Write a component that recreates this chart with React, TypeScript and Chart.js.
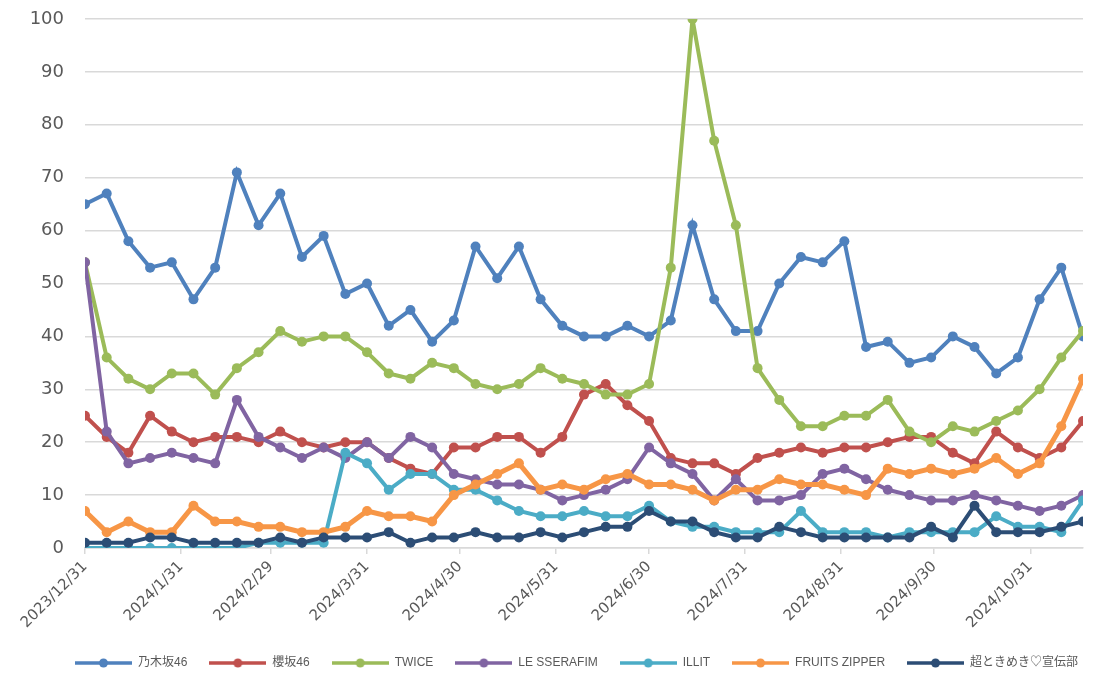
import React, { useEffect, useRef } from 'react';
import { Chart, registerables } from 'chart.js';

Chart.register(...registerables);

const WEEKS = [
  '2023/12/31', '2024/1/7', '2024/1/14', '2024/1/21', '2024/1/28', '2024/2/4', '2024/2/11', '2024/2/18',
  '2024/2/25', '2024/3/3', '2024/3/10', '2024/3/17', '2024/3/24', '2024/3/31', '2024/4/7', '2024/4/14',
  '2024/4/21', '2024/4/28', '2024/5/5', '2024/5/12', '2024/5/19', '2024/5/26', '2024/6/2', '2024/6/9',
  '2024/6/16', '2024/6/23', '2024/6/30', '2024/7/7', '2024/7/14', '2024/7/21', '2024/7/28', '2024/8/4',
  '2024/8/11', '2024/8/18', '2024/8/25', '2024/9/1', '2024/9/8', '2024/9/15', '2024/9/22', '2024/9/29',
  '2024/10/6', '2024/10/13', '2024/10/20', '2024/10/27', '2024/11/3', '2024/11/10', '2024/11/17',
];

const TICK_DATES = [
  '2023/12/31', '2024/1/31', '2024/2/29', '2024/3/31', '2024/4/30', '2024/5/31',
  '2024/6/30', '2024/7/31', '2024/8/31', '2024/9/30', '2024/10/31',
];

const NAMES = ['乃木坂46', '櫻坂46', 'TWICE', 'LE SSERAFIM', 'ILLIT', 'FRUITS ZIPPER', '超ときめき♡宣伝部'];
const COLORS = ['#4F81BD', '#C0504D', '#9BBB59', '#8064A2', '#4BACC6', '#F79646', '#2C4D75'];

const nogizaka = [65, 67, 58, 53, 54, 47, 53, 71, 61, 67, 55, 59, 48, 50, 42, 45, 39, 43, 57, 51, 57, 47, 42, 40, 40, 42, 40, 43, 61, 47, 41, 41, 50, 55, 54, 58, 38, 39, 35, 36, 40, 38, 33, 36, 47, 53, 40];
const sakurazaka = [25, 21, 18, 25, 22, 20, 21, 21, 20, 22, 20, 19, 20, 20, 17, 15, 14, 19, 19, 21, 21, 18, 21, 29, 31, 27, 24, 17, 16, 16, 14, 17, 18, 19, 18, 19, 19, 20, 21, 21, 18, 16, 22, 19, 17, 19, 24];
const twice = [54, 36, 32, 30, 33, 33, 29, 34, 37, 41, 39, 40, 40, 37, 33, 32, 35, 34, 31, 30, 31, 34, 32, 31, 29, 29, 31, 53, 100, 77, 61, 34, 28, 23, 23, 25, 25, 28, 22, 20, 23, 22, 24, 26, 30, 36, 41];
const lesserafim = [54, 22, 16, 17, 18, 17, 16, 28, 21, 19, 17, 19, 17, 20, 17, 21, 19, 14, 13, 12, 12, 11, 9, 10, 11, 13, 19, 16, 14, 9, 13, 9, 9, 10, 14, 15, 13, 11, 10, 9, 9, 10, 9, 8, 7, 8, 10];
const illit = [0, 0, 0, 0, 0, 0, 0, 0, 1, 1, 1, 1, 18, 16, 11, 14, 14, 11, 11, 9, 7, 6, 6, 7, 6, 6, 8, 5, 4, 4, 3, 3, 3, 7, 3, 3, 3, 2, 3, 3, 3, 3, 6, 4, 4, 3, 9];
const fruitsZipper = [7, 3, 5, 3, 3, 8, 5, 5, 4, 4, 3, 3, 4, 7, 6, 6, 5, 10, 12, 14, 16, 11, 12, 11, 13, 14, 12, 12, 11, 9, 11, 11, 13, 12, 12, 11, 10, 15, 14, 15, 14, 15, 17, 14, 16, 23, 32];
const chotoki = [1, 1, 1, 2, 2, 1, 1, 1, 1, 2, 1, 2, 2, 2, 3, 1, 2, 2, 3, 2, 2, 3, 2, 3, 4, 4, 7, 5, 5, 3, 2, 2, 4, 3, 2, 2, 2, 2, 2, 4, 2, 8, 3, 3, 3, 4, 5];

const SERIES = [nogizaka, sakurazaka, twice, lesserafim, illit, fruitsZipper, chotoki];

const dayOf = (s: string) => {
  const [y, m, d] = s.split('/').map(Number);
  return (Date.UTC(y, m - 1, d) - Date.UTC(2023, 11, 31)) / 86400000;
};

const FONT = "'DejaVu Sans', 'Noto Sans CJK JP', sans-serif";
const LEGEND_FONT = "'Liberation Sans', 'Noto Sans CJK JP', sans-serif";

const legendIcon = (color: string) => {
  const c = document.createElement('canvas');
  c.width = 57;
  c.height = 12;
  const g = c.getContext('2d');
  if (g) {
    g.strokeStyle = color;
    g.lineWidth = 3.5;
    g.beginPath();
    g.moveTo(0, 6);
    g.lineTo(57, 6);
    g.stroke();
    g.fillStyle = color;
    g.beginPath();
    g.arc(28.5, 6, 4.5, 0, Math.PI * 2);
    g.fill();
  }
  return c;
};

const App: React.FC = () => {
  const canvasRef = useRef<HTMLCanvasElement>(null);
  const chartRef = useRef<Chart>();

  useEffect(() => {
    if (!canvasRef.current) return;
    const ctx = canvasRef.current.getContext('2d');
    if (!ctx) return;

    const xs = WEEKS.map(dayOf);
    const tickDays = TICK_DATES.map(dayOf);
    const icons = COLORS.map(legendIcon);

    chartRef.current = new Chart(ctx, {
      type: 'line',
      data: {
        datasets: SERIES.map((values, i) => ({
          label: NAMES[i],
          data: values.map((v, j) => ({ x: xs[j], y: v })),
          borderColor: COLORS[i],
          backgroundColor: COLORS[i],
          pointBackgroundColor: COLORS[i],
          pointBorderWidth: 0,
          pointRadius: 5,
          borderWidth: i === 5 ? 5 : 4,
          tension: 0,
          order: NAMES.length - i,
        })),
      },
      options: {
        animation: false,
        responsive: false,
        layout: { padding: { top: 19, right: 35, bottom: 9, left: 0 } },
        scales: {
          x: {
            type: 'linear',
            min: 0,
            max: xs[xs.length - 1],
            afterBuildTicks: (scale: any) => {
              scale.ticks = tickDays.map(v => ({ value: v }));
            },
            afterFit: (scale: any) => {
              scale.height = 87;
            },
            ticks: {
              autoSkip: false,
              minRotation: 45,
              maxRotation: 45,
              padding: 4,
              color: '#595959',
              font: { family: FONT, size: 15 },
              callback: (_v: any, index: number) => TICK_DATES[index],
            },
            grid: { drawOnChartArea: false, color: '#d9d9d9', lineWidth: 1.5, tickLength: 6 },
            border: { color: '#d9d9d9', width: 1.5 },
          },
          y: {
            min: 0,
            max: 100,
            afterFit: (scale: any) => {
              scale.width = 85;
              scale.paddingTop = 0;
              scale.paddingBottom = 0;
            },
            ticks: {
              stepSize: 10,
              padding: 21,
              color: '#595959',
              font: { family: FONT, size: 18 },
            },
            grid: { color: '#d9d9d9', lineWidth: 1.5, drawTicks: false },
            border: { display: false },
          },
        },
        plugins: {
          tooltip: { enabled: false },
          legend: {
            position: 'bottom',
            align: 'start',
            labels: {
              usePointStyle: true,
              pointStyleWidth: 57,
              padding: 22,
              color: '#595959',
              font: { family: LEGEND_FONT, size: 12 },
              generateLabels: (chart: any) =>
                chart.data.datasets.map((ds: any, i: number) => ({
                  text: ds.label,
                  fillStyle: COLORS[i],
                  strokeStyle: COLORS[i],
                  lineWidth: 0,
                  pointStyle: icons[i],
                  hidden: false,
                  datasetIndex: i,
                  fontColor: '#595959',
                })),
            },
          },
        },
      },
      plugins: [
        {
          id: 'legendShift',
          afterLayout: (chart: any) => {
            if (chart.legend) {
              chart.legend.left = 53;
              chart.legend.right = 1118;
            }
          },
        },
      ],
    });

    return () => {
      if (chartRef.current) {
        chartRef.current.destroy();
      }
    };
  }, []);

  return (
    <div style={{ position: 'fixed', left: 0, top: 0, width: 1118, height: 688, background: '#fff' }}>
      <canvas ref={canvasRef} width={1118} height={688} style={{ display: 'block' }} />
    </div>
  );
};

export default App;
